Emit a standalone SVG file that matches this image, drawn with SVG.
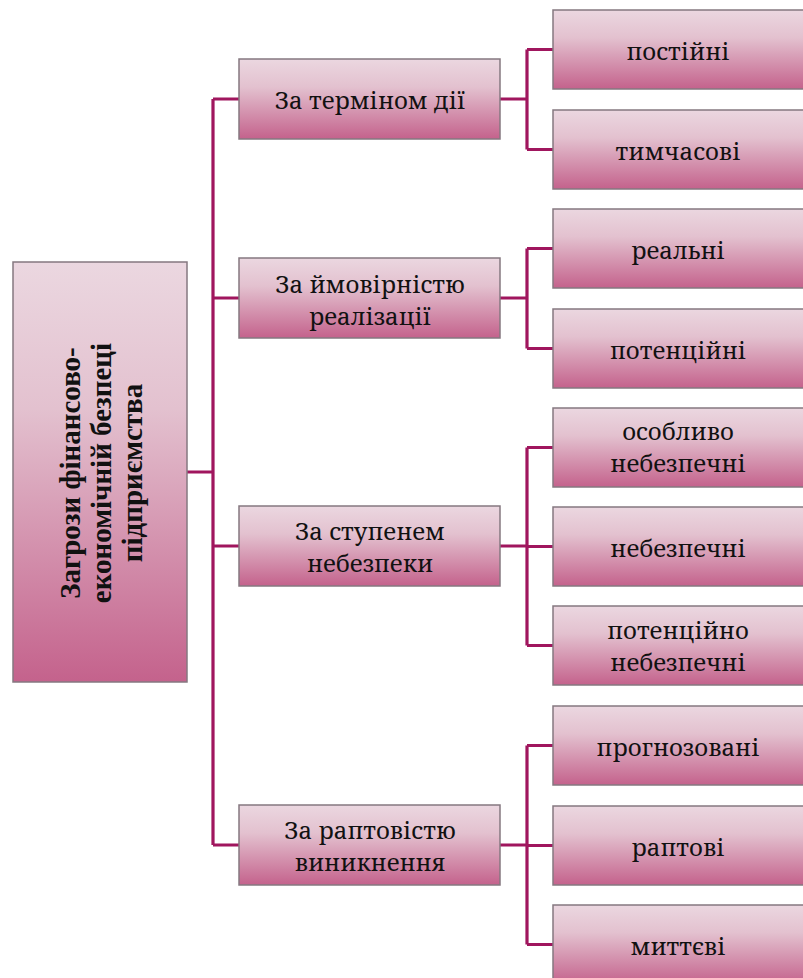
<svg xmlns="http://www.w3.org/2000/svg" width="803" height="978" viewBox="0 0 803 978">
<defs>
<linearGradient id="g" x1="0" y1="0" x2="0" y2="1">
<stop offset="0" stop-color="#ebd7e0"/>
<stop offset="0.35" stop-color="#e3c1cf"/>
<stop offset="1" stop-color="#c4628c"/>
</linearGradient>
</defs>
<style>
.box{fill:url(#g);stroke:#857880;stroke-width:1.5}
.c{fill:none;stroke:#a0165e;stroke-width:3.2}
</style>
<rect width="803" height="978" fill="#fff"/>
<g id="connectors">
<path class="c" d="M187 472H213M213 99V845M213 99H239M213 298H239M213 546H239M213 845H239"/>
<path class="c" d="M500 99H527M527 49.5V149.5M527 49.5H553M527 149.5H553"/>
<path class="c" d="M500 298H527M527 248.5V348.5M527 248.5H553M527 348.5H553"/>
<path class="c" d="M500 546H527M527 447.5V645.5M527 447.5H553M527 546.5H553M527 645.5H553"/>
<path class="c" d="M500 845H527M527 745.5V944.5M527 745.5H553M527 845.5H553M527 944.5H553"/>
</g>
<g id="root">
<rect class="box" x="13" y="262" width="174" height="420"/>
<text font-family="Liberation Serif" font-size="29" font-weight="bold" fill="#111" text-anchor="middle" transform="translate(80 473) rotate(-90)"><tspan x="0" y="0">Загрози фінансово-</tspan><tspan x="0" y="31">економічній безпеці</tspan><tspan x="0" y="62">підприємства</tspan></text>
</g>
<g font-family="Noto Serif, DejaVu Serif, serif" font-size="24" fill="#111" text-anchor="middle">
<g id="n1"><rect class="box" x="239" y="59" width="261" height="80"/><text x="370" y="109">За терміном дії</text></g>
<g id="n2"><rect class="box" x="239" y="258" width="261" height="80"/><text x="370" y="293">За ймовірністю</text><text x="370" y="325">реалізації</text></g>
<g id="n3"><rect class="box" x="239" y="506" width="261" height="80"/><text x="370" y="540">За ступенем</text><text x="370" y="572">небезпеки</text></g>
<g id="n4"><rect class="box" x="239" y="805" width="261" height="80"/><text x="370" y="839">За раптовістю</text><text x="370" y="871">виникнення</text></g>
<g id="n11"><rect class="box" x="553" y="10" width="252" height="79"/><text x="678" y="60">постійні</text></g>
<g id="n12"><rect class="box" x="553" y="110" width="252" height="79"/><text x="678" y="160">тимчасові</text></g>
<g id="n21"><rect class="box" x="553" y="209" width="252" height="79"/><text x="678" y="259">реальні</text></g>
<g id="n22"><rect class="box" x="553" y="309" width="252" height="79"/><text x="678" y="359">потенційні</text></g>
<g id="n31"><rect class="box" x="553" y="408" width="252" height="79"/><text x="678" y="440">особливо</text><text x="678" y="472">небезпечні</text></g>
<g id="n32"><rect class="box" x="553" y="507" width="252" height="79"/><text x="678" y="557">небезпечні</text></g>
<g id="n33"><rect class="box" x="553" y="606" width="252" height="79"/><text x="678" y="639">потенційно</text><text x="678" y="671">небезпечні</text></g>
<g id="n41"><rect class="box" x="553" y="706" width="252" height="79"/><text x="678" y="756">прогнозовані</text></g>
<g id="n42"><rect class="box" x="553" y="806" width="252" height="79"/><text x="678" y="856">раптові</text></g>
<g id="n43"><rect class="box" x="553" y="905" width="252" height="79"/><text x="678" y="955">миттєві</text></g>
</g>
</svg>
